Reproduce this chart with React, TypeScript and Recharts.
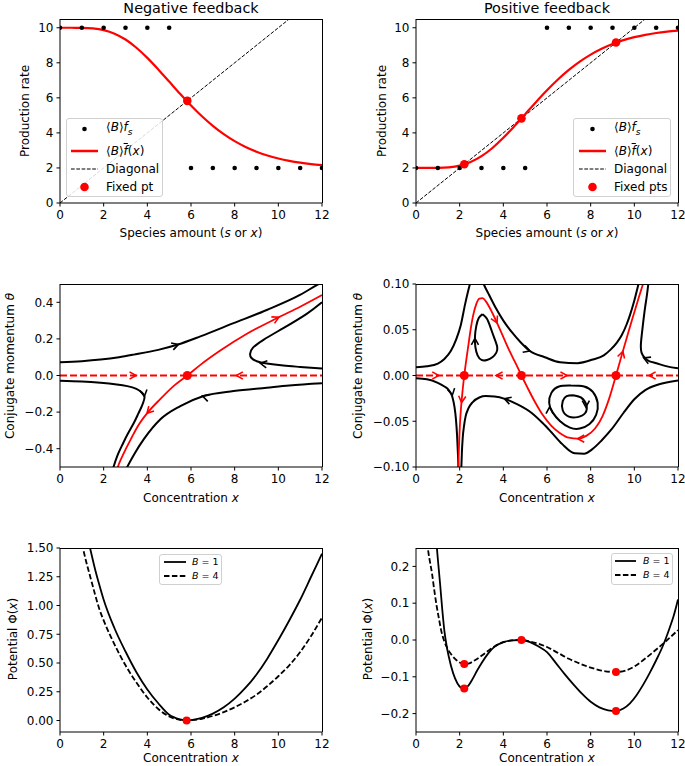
import React from "react";
import { ComposedChart, Line, Scatter, XAxis, YAxis } from "recharts";

const FONT = "'DejaVu Sans', sans-serif";

// ---- top row: production rate vs species amount ----
const xGrid = [0, 0.5, 1, 1.5, 2, 2.5, 3, 3.5, 4, 4.5, 5, 5.5, 6, 6.5, 7, 7.5, 8, 8.5, 9, 9.5, 10, 10.5, 11, 11.5, 12];
const negRate = [10, 10, 9.995, 9.964, 9.867, 9.664, 9.329, 8.861, 8.281, 7.623, 6.928, 6.231, 5.565, 4.952, 4.406, 3.931, 3.53, 3.197, 2.926, 2.708, 2.537, 2.403, 2.3, 2.222, 2.163];
const posRate = [2, 2, 2.005, 2.036, 2.133, 2.336, 2.671, 3.139, 3.719, 4.377, 5.072, 5.769, 6.435, 7.048, 7.594, 8.069, 8.47, 8.803, 9.074, 9.292, 9.463, 9.597, 9.7, 9.778, 9.837];
const species = [0, 1, 2, 3, 4, 5, 6, 7, 8, 9, 10, 11, 12];
const negFs = [10, 10, 10, 10, 10, 10, 2, 2, 2, 2, 2, 2, 2];
const posFs = [2, 2, 2, 2, 2, 2, 10, 10, 10, 10, 10, 10, 10];
const diagX = [0, 12];
const negFixed = [5.83];
const posFixed = [2.21, 4.83, 9.16];

// ---- middle row: trajectories (x, theta) ----
const mlRed = [[2.6, -0.52], [2.65, -0.5], [2.82, -0.45], [3.02, -0.4], [3.28, -0.34], [3.55, -0.28], [4.0, -0.205], [4.6, -0.128], [5.2, -0.058], [5.83, 0], [6.43, 0.058], [7.34, 0.136], [8.56, 0.228], [10.0, 0.317], [11.0, 0.376], [12.0, 0.44]];
const mlTop = [[0, 0.072], [1.0, 0.078], [1.86, 0.087], [2.7, 0.1], [3.38, 0.114], [4.5, 0.14], [5.36, 0.168], [6.43, 0.214], [7.95, 0.286], [9.47, 0.358], [10.99, 0.44], [11.76, 0.494], [12, 0.51]];
const mlRight = [[12, 0.038], [11.0, 0.047], [10.23, 0.054], [9.47, 0.065], [9.01, 0.078], [8.76, 0.097], [8.71, 0.12], [8.84, 0.152], [9.32, 0.195], [10.23, 0.259], [11.3, 0.337], [12, 0.4]];
const mlLowLeft = [[0, -0.029], [1.0, -0.033], [1.86, -0.04], [2.6, -0.049], [3.08, -0.058], [3.5, -0.073], [3.75, -0.093], [3.87, -0.115], [3.82, -0.145], [3.72, -0.175], [3.58, -0.21], [3.38, -0.26], [3.1, -0.32], [2.85, -0.38], [2.62, -0.44], [2.45, -0.5], [2.4, -0.52]];
const mlBottom = [[3.0, -0.52], [3.08, -0.5], [3.4, -0.43], [3.84, -0.348], [4.6, -0.239], [5.51, -0.167], [6.58, -0.112], [7.95, -0.085], [9.47, -0.067], [10.5, -0.055], [12, -0.043]];
const mlFixed = [5.83];
// arrows: x, theta, direction dx, dtheta
const mlRedArrows = [[3.46, 0, 1, 0], [8.1, 0, -1, 0], [4.0, -0.205, -0.6, -0.077], [10.0, 0.317, 1, 0.059]];
const mlBlackArrows = [[5.4, 0.169, 1, 0.04], [9.2, 0.066, -1, 0.02], [3.86, -0.112, 0.05, -0.04], [6.55, -0.113, -1, 0.035]];

const mrRed = [[1.93, -0.105], [1.95, -0.09], [1.98, -0.07], [2.02, -0.05], [2.07, -0.033], [2.14, -0.015], [2.21, 0], [2.29, 0.015], [2.38, 0.03], [2.5, 0.05], [2.62, 0.066], [2.76, 0.078], [2.9, 0.084], [3.05, 0.0845], [3.2, 0.081], [3.4, 0.073], [3.7, 0.058], [4.0, 0.042], [4.3, 0.026], [4.55, 0.014], [4.83, 0], [5.1, -0.013], [5.45, -0.029], [5.8, -0.043], [6.2, -0.055], [6.6, -0.063], [7.0, -0.068], [7.4, -0.069], [7.8, -0.066], [8.2, -0.058], [8.55, -0.044], [8.85, -0.025], [9.16, 0], [9.42, 0.022], [9.7, 0.045], [9.96, 0.066], [10.2, 0.085], [10.45, 0.104]];
const mrUpper = [[0, 0.009], [0.5, 0.01], [1.0, 0.013], [1.3, 0.018], [1.6, 0.027], [1.85, 0.04], [2.05, 0.055], [2.25, 0.078], [2.45, 0.098], [2.6, 0.11], [2.75, 0.116], [2.9, 0.113], [3.1, 0.1], [3.35, 0.088], [3.65, 0.074], [4.0, 0.06], [4.4, 0.047], [4.8, 0.036], [5.2, 0.027], [5.9, 0.02], [6.6, 0.0145], [7.4, 0.0135], [8.1, 0.0175], [8.6, 0.022], [8.9, 0.028], [9.2, 0.036], [9.42, 0.044], [9.65, 0.056], [9.8, 0.066], [10.0, 0.082], [10.18, 0.099], [10.3, 0.11]];
const mrRight = [[10.68, 0.11], [10.64, 0.1], [10.56, 0.085], [10.49, 0.074], [10.4, 0.057], [10.34, 0.0445], [10.3, 0.034], [10.33, 0.025], [10.49, 0.019], [10.7, 0.0155], [11.02, 0.0133], [11.5, 0.01], [12, 0.0078]];
const mrLoopTop = [[3.05, 0.067], [2.88, 0.063], [2.76, 0.054], [2.7, 0.042], [2.72, 0.031], [2.82, 0.022], [3.0, 0.017], [3.25, 0.017], [3.5, 0.02], [3.68, 0.025], [3.72, 0.031], [3.6, 0.04], [3.42, 0.052], [3.25, 0.062], [3.05, 0.067]];
const mrLoopOuter = [[7.1, -0.011], [7.7, -0.012], [8.1, -0.018], [8.32, -0.03], [8.25, -0.043], [7.95, -0.053], [7.5, -0.058], [7.05, -0.057], [6.6, -0.05], [6.25, -0.04], [6.1, -0.03], [6.2, -0.019], [6.55, -0.012], [7.1, -0.011]];
const mrLoopInner = [[7.2, -0.0215], [7.55, -0.024], [7.8, -0.032], [7.75, -0.041], [7.4, -0.0455], [7.0, -0.045], [6.72, -0.038], [6.72, -0.028], [6.9, -0.0225], [7.2, -0.0215]];
const mrLowLeft = [[0, -0.003], [0.5, -0.004], [1.0, -0.008], [1.3, -0.012], [1.5, -0.016], [1.66, -0.023], [1.76, -0.034], [1.83, -0.048], [1.88, -0.065], [1.92, -0.085], [1.95, -0.105]];
const mrLower = [[2.07, -0.105], [2.1, -0.085], [2.14, -0.068], [2.2, -0.055], [2.27, -0.045], [2.4, -0.036], [2.6, -0.029], [2.9, -0.024], [3.2, -0.0225], [3.6, -0.023], [4.07, -0.0255], [4.6, -0.031], [5.3, -0.041], [5.8, -0.052], [6.2, -0.062], [6.7, -0.075], [7.27, -0.085], [7.7, -0.0855], [8.05, -0.081], [8.5, -0.071], [8.95, -0.059], [9.5, -0.041], [10.0, -0.026], [10.5, -0.016], [11.1, -0.0099], [12, -0.0055]];
const mrFixed = [2.21, 4.83, 9.16];
const mrRedArrows = [[1.02, 0, 1, 0], [3.69, 0, -1, 0], [6.89, 0, 1, 0], [10.7, 0, -1, 0], [2.09, -0.029, -0.11, -0.025], [3.7, 0.058, 1, -0.05], [7.43, -0.069, -1, 0], [9.47, 0.026, 0.54, 0.044]];
const mrBlackArrows = [[5.2, 0.027, 1, -0.008], [10.45, 0.019, -1, 0.01], [2.7, 0.04, 0, 1], [6.12, -0.035, 0, 1], [7.78, -0.034, 0, -1], [1.66, -0.021, 0.1, -0.012], [4.07, -0.0255, -1, 0.008]];

// ---- bottom row: potentials ----
const potNegX = [1.0, 1.2, 1.4, 1.6, 1.8, 2.0, 2.5, 3.0, 3.5, 4.0, 4.5, 5.0, 5.5, 5.8, 6.0, 6.5, 7.0, 7.5, 8.0, 8.5, 9.0, 9.5, 10.0, 10.5, 11.0, 11.5, 12.0];
const potNegB1 = [1.85, 1.64, 1.48, 1.32, 1.18, 1.05, 0.8, 0.6, 0.42, 0.27, 0.15, 0.05, 0.01, 0, 0.003, 0.022, 0.06, 0.115, 0.19, 0.285, 0.4, 0.54, 0.7, 0.87, 1.05, 1.25, 1.45];
const potNegB4 = [1.54, 1.38, 1.24, 1.1, 0.97, 0.87, 0.66, 0.48, 0.33, 0.2, 0.1, 0.035, 0.006, 0, 0.002, 0.015, 0.04, 0.073, 0.115, 0.165, 0.225, 0.3, 0.385, 0.48, 0.595, 0.735, 0.895];
const potNegFixed = [[5.8, 0]];

const potPosX1 = [0.9, 1.0, 1.1, 1.2, 1.3, 1.4, 1.5, 1.7, 1.9, 2.05, 2.2, 2.4, 2.6, 2.8, 3.0, 3.3, 3.6, 4.0, 4.4, 4.83, 5.2, 5.6, 6.0, 6.4, 6.8, 7.2, 7.6, 8.0, 8.4, 8.8, 9.16, 9.5, 9.8, 10.1, 10.4, 10.7, 11.0, 11.3, 11.6, 11.8, 12.0];
const potPosB1 = [0.29, 0.22, 0.155, 0.085, 0.025, -0.015, -0.045, -0.09, -0.118, -0.129, -0.132, -0.124, -0.105, -0.083, -0.063, -0.037, -0.018, -0.006, -0.001, 0, -0.005, -0.017, -0.033, -0.062, -0.092, -0.12, -0.146, -0.168, -0.183, -0.191, -0.193, -0.186, -0.172, -0.15, -0.122, -0.09, -0.055, -0.017, 0.03, 0.065, 0.11];
const potPosX4 = [0.5, 0.6, 0.73, 0.85, 0.95, 1.05, 1.15, 1.3, 1.45, 1.6, 1.8, 2.0, 2.2, 2.4, 2.7, 3.0, 3.36, 3.7, 4.0, 4.4, 4.83, 5.2, 5.6, 6.0, 6.5, 7.0, 7.5, 8.0, 8.5, 9.16, 9.6, 10.0, 10.4, 10.8, 11.2, 11.6, 12.0];
const potPosB4 = [0.265, 0.226, 0.182, 0.13, 0.091, 0.058, 0.027, -0.004, -0.024, -0.038, -0.052, -0.061, -0.065, -0.064, -0.055, -0.043, -0.027, -0.014, -0.006, -0.001, 0, -0.004, -0.01, -0.019, -0.035, -0.051, -0.064, -0.075, -0.083, -0.087, -0.083, -0.072, -0.055, -0.036, -0.016, 0.005, 0.027];
const potPosFixed = [[2.21, -0.132], [2.21, -0.065], [4.83, 0], [9.16, -0.193], [9.16, -0.087]];

// ---- axes ----
const xTicks = [0, 2, 4, 6, 8, 10, 12];
const rateTicks = [0, 2, 4, 6, 8, 10];
const mlTicks = [-0.4, -0.2, 0, 0.2, 0.4];
const mrTicks = [-0.1, -0.05, 0, 0.05, 0.1];
const blTicks = [0, 0.25, 0.5, 0.75, 1, 1.25, 1.5];
const brTicks = [-0.2, -0.1, 0, 0.1, 0.2];

const PLOT_W = 262;
const COL = [60, 416];
const ROW = [19, 284, 548];
const ROW_H = [184, 183, 184];

const zip = (xs: number[], ys: number[]) => xs.map((x, i) => ({ x, y: ys[i] }));
const pairs = (arr: number[][]) => arr.map(([x, y]) => ({ x, y }));
const arrowRows = (arr: number[][]) => arr.map(([x, y, dx, dy]) => ({ x, y, dx, dy }));
const fmt = (d: number) => (v: number) => (v < 0 ? "\u2212" : "") + Math.abs(v).toFixed(d);

const curve = (key: string, data: any[], color: string, width: number, type: any = "monotone", dash?: string) => (
  <Line key={key} data={data} dataKey="y" type={type} stroke={color} strokeWidth={width} strokeDasharray={dash}
    dot={false} activeDot={false} isAnimationActive={false} legendType="none" />
);

const dots = (key: string, data: any[], color: string, r: number) => (
  <Scatter key={key} data={data} dataKey="y" isAnimationActive={false} legendType="none"
    shape={(p: any) => <circle cx={p.cx} cy={p.cy} r={r} fill={color} />} />
);

const arrows = (key: string, data: any[], color: string, kx: number, ky: number) => (
  <Scatter key={key} data={data} dataKey="y" isAnimationActive={false} legendType="none"
    shape={(p: any) => {
      const a = (Math.atan2(-p.payload.dy * ky, p.payload.dx * kx) * 180) / Math.PI;
      return <path d="M-6,-3.6 L0.5,0 L-6,3.6" transform={`translate(${p.cx},${p.cy}) rotate(${a})`}
        fill="none" stroke={color} strokeWidth={1.6} />;
    }} />
);

function Panel({ col, row, yDomain, yTicks, yFmt, children }: any) {
  const h = ROW_H[row];
  return (
    <div style={{ position: "absolute", left: COL[col] - 60, top: ROW[row] - 10 }}>
      <ComposedChart width={60 + PLOT_W + 9} height={h + 50} margin={{ top: 10, right: 9, bottom: 0, left: 0 }}>
        <XAxis dataKey="x" type="number" domain={[0, 12]} ticks={xTicks} allowDataOverflow interval={0}
          height={40} tickSize={3.5} tickMargin={3.5} stroke="#000" tick={{ fill: "#000", fontSize: 12 }} />
        <YAxis type="number" domain={yDomain} ticks={yTicks} allowDataOverflow interval={0} width={60}
          tickSize={3.5} tickMargin={3} stroke="#000" tick={{ fill: "#000", fontSize: 12 }} tickFormatter={yFmt} />
        {children}
      </ComposedChart>
      <div style={{ position: "absolute", left: 60, top: 10, width: PLOT_W + 0.5, height: h, boxSizing: "border-box",
        borderTop: "1px solid #000", borderRight: "1px solid #000", pointerEvents: "none" }} />
    </div>
  );
}

const Txt = ({ x, y, size = 12, rotate = false, children }: any) => (
  <div style={{ position: "absolute", left: x, top: y, fontSize: size, lineHeight: 1, whiteSpace: "nowrap",
    transform: `translate(-50%, -50%)${rotate ? " rotate(-90deg)" : ""}` }}>{children}</div>
);

const Sym = ({ kind, w, color, dash, lw }: any) => (
  <svg width={w} height={12} style={{ position: "absolute", left: 0, top: 0 }}>
    {kind === "dot" ? <circle cx={w / 2} cy={6} r={lw} fill={color} />
      : <line x1={0} y1={6} x2={w} y2={6} stroke={color} strokeWidth={lw} strokeDasharray={dash} />}
  </svg>
);

function LegendBox({ x, y, w, h, symX, symW, textX, rows, size }: any) {
  return (
    <div style={{ position: "absolute", left: x, top: y, width: w, height: h, boxSizing: "border-box",
      border: "1px solid #d0d0d0", borderRadius: 3, background: "rgba(255,255,255,0.85)" }}>
      {rows.map((r: any, i: number) => (
        <div key={i} style={{ position: "absolute", left: 0, top: r.y - y - 6, width: w, height: 12 }}>
          <div style={{ position: "absolute", left: symX - x, top: 0, width: symW, height: 12 }}>
            <Sym {...r.sym} w={symW} />
          </div>
          <div style={{ position: "absolute", left: textX - x, top: 6, transform: "translateY(-50%)", fontSize: size,
            lineHeight: 1, whiteSpace: "nowrap" }}>{r.label}</div>
        </div>
      ))}
    </div>
  );
}

const fsLabel = <span>⟨<i>B</i>⟩<i>f</i><sub style={{ fontSize: 9, fontStyle: "italic" }}>s</sub></span>;
const fbarLabel = <span>⟨<i>B</i>⟩<i style={{ textDecoration: "overline" }}>f</i>(<i>x</i>)</span>;

const topRows = (fixedLabel: string, y0: number) => [
  { y: y0 + 10, sym: { kind: "dot", color: "#000", lw: 2.3 }, label: fsLabel },
  { y: y0 + 32, sym: { kind: "line", color: "#ff0000", lw: 2.5 }, label: fbarLabel },
  { y: y0 + 50, sym: { kind: "line", color: "#000", lw: 1, dash: "3.7 1.6" }, label: "Diagonal" },
  { y: y0 + 68, sym: { kind: "dot", color: "#ff0000", lw: 4.3 }, label: fixedLabel },
];

const bRows = (y0: number) => [
  { y: y0 + 7, sym: { kind: "line", color: "#000", lw: 1.8 }, label: <span><i>B</i> = 1</span> },
  { y: y0 + 21, sym: { kind: "line", color: "#000", lw: 1.8, dash: "5.5 2.4" }, label: <span><i>B</i> = 4</span> },
];

const KX = PLOT_W / 12;

export default function App() {
  const diag = zip(diagX, diagX);
  return (
    <div style={{ position: "absolute", left: 0, top: 0, width: 685, height: 766, overflow: "hidden",
      background: "#fff", fontFamily: FONT, color: "#000" }}>
      {/* top row */}
      <Panel col={0} row={0} yDomain={[0, 10.5]} yTicks={rateTicks} yFmt={fmt(0)}>
        {[
          curve("diag", diag, "#000", 1, "linear", "3.7 1.6"),
          curve("rate", zip(xGrid, negRate), "#ff0000", 2.2),
          dots("fs", zip(species, negFs), "#000", 2.3),
          dots("fix", zip(negFixed, negFixed), "#ff0000", 4.3),
        ]}
      </Panel>
      <Panel col={1} row={0} yDomain={[0, 10.5]} yTicks={rateTicks} yFmt={fmt(0)}>
        {[
          curve("diag", diag, "#000", 1, "linear", "3.7 1.6"),
          curve("rate", zip(xGrid, posRate), "#ff0000", 2.2),
          dots("fs", zip(species, posFs), "#000", 2.3),
          dots("fix", zip(posFixed, posFixed), "#ff0000", 4.3),
        ]}
      </Panel>

      {/* middle row */}
      <Panel col={0} row={1} yDomain={[-0.5, 0.5]} yTicks={mlTicks} yFmt={fmt(1)}>
        {[
          curve("top", pairs(mlTop), "#000", 2),
          curve("right", pairs(mlRight), "#000", 2, "natural"),
          curve("lowleft", pairs(mlLowLeft), "#000", 2, "natural"),
          curve("bottom", pairs(mlBottom), "#000", 2),
          curve("zero", zip([0, 12], [0, 0]), "#ff0000", 2.2, "linear", "7 3"),
          curve("red", pairs(mlRed), "#ff0000", 1.8),
          arrows("ab", arrowRows(mlBlackArrows), "#000", KX, ROW_H[1] / 1.0),
          arrows("ar", arrowRows(mlRedArrows), "#ff0000", KX, ROW_H[1] / 1.0),
          dots("fix", zip(mlFixed, [0]), "#ff0000", 4.5),
        ]}
      </Panel>
      <Panel col={1} row={1} yDomain={[-0.1, 0.1]} yTicks={mrTicks} yFmt={fmt(2)}>
        {[
          curve("upper", pairs(mrUpper), "#000", 2),
          curve("right", pairs(mrRight), "#000", 2, "natural"),
          curve("loopTop", pairs(mrLoopTop), "#000", 2, "natural"),
          curve("loopOuter", pairs(mrLoopOuter), "#000", 2, "natural"),
          curve("loopInner", pairs(mrLoopInner), "#000", 2, "natural"),
          curve("lowLeft", pairs(mrLowLeft), "#000", 2),
          curve("lower", pairs(mrLower), "#000", 2),
          curve("zero", zip([0, 12], [0, 0]), "#ff0000", 2.2, "linear", "7 3"),
          curve("red", pairs(mrRed), "#ff0000", 1.8),
          arrows("ab", arrowRows(mrBlackArrows), "#000", KX, ROW_H[1] / 0.2),
          arrows("ar", arrowRows(mrRedArrows), "#ff0000", KX, ROW_H[1] / 0.2),
          dots("fix", zip(mrFixed, [0, 0, 0]), "#ff0000", 4.5),
        ]}
      </Panel>

      {/* bottom row */}
      <Panel col={0} row={2} yDomain={[-0.1, 1.5]} yTicks={blTicks} yFmt={fmt(2)}>
        {[
          curve("b1", zip(potNegX, potNegB1), "#000", 1.8),
          curve("b4", zip(potNegX, potNegB4), "#000", 1.8, "monotone", "5.5 2.4"),
          dots("fix", pairs(potNegFixed), "#ff0000", 4),
        ]}
      </Panel>
      <Panel col={1} row={2} yDomain={[-0.25, 0.25]} yTicks={brTicks} yFmt={fmt(1)}>
        {[
          curve("b1", zip(potPosX1, potPosB1), "#000", 1.8),
          curve("b4", zip(potPosX4, potPosB4), "#000", 1.8, "monotone", "5.5 2.4"),
          dots("fix", pairs(potPosFixed), "#ff0000", 4),
        ]}
      </Panel>

      {/* titles and axis labels */}
      <Txt x={191} y={8} size={14.4}>Negative feedback</Txt>
      <Txt x={547} y={8} size={14.4}>Positive feedback</Txt>
      <Txt x={191} y={233}>Species amount (<i>s</i> or <i>x</i>)</Txt>
      <Txt x={547} y={233}>Species amount (<i>s</i> or <i>x</i>)</Txt>
      <Txt x={191} y={498}>Concentration <i>x</i></Txt>
      <Txt x={547} y={498}>Concentration <i>x</i></Txt>
      <Txt x={191} y={758}>Concentration <i>x</i></Txt>
      <Txt x={547} y={758}>Concentration <i>x</i></Txt>
      <Txt x={25} y={111} rotate>Production rate</Txt>
      <Txt x={382} y={111} rotate>Production rate</Txt>
      <Txt x={10} y={366} rotate>Conjugate momentum <i>θ</i></Txt>
      <Txt x={358} y={366} rotate>Conjugate momentum <i>θ</i></Txt>
      <Txt x={13} y={639} rotate>Potential Φ(<i>x</i>)</Txt>
      <Txt x={368} y={639} rotate>Potential Φ(<i>x</i>)</Txt>

      {/* legends */}
      <LegendBox x={66} y={118} w={97} h={79} symX={70} symW={27} textX={105} size={12} rows={topRows("Fixed pt", 118)} />
      <LegendBox x={573} y={118} w={98} h={79} symX={578} symW={27} textX={613} size={12} rows={topRows("Fixed pts", 118)} />
      <LegendBox x={159} y={554} w={63} h={31} symX={163} symW={22} textX={191} size={9.5} rows={bRows(554)} />
      <LegendBox x={611} y={553} w={62} h={32} symX={614} symW={21} textX={642} size={9.5} rows={bRows(553)} />
    </div>
  );
}
